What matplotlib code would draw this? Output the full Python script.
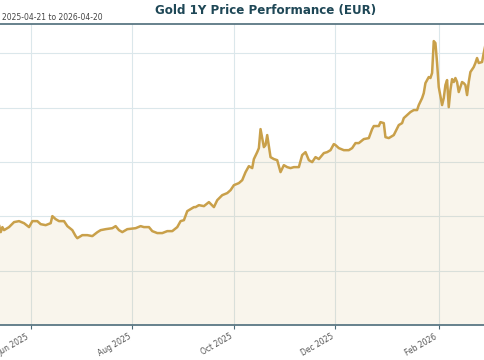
import matplotlib
matplotlib.use("Agg")
import matplotlib.pyplot as plt
import matplotlib.dates as mdates
import pandas as pd

# Gold price in EUR per ounce
dates = [
    "2025-05-12", "2025-05-13", "2025-05-14", "2025-05-15", "2025-05-16", "2025-05-19",
    "2025-05-22", "2025-05-25", "2025-05-28", "2025-05-31", "2025-06-02", "2025-06-05",
    "2025-06-07", "2025-06-10", "2025-06-13", "2025-06-14", "2025-06-16", "2025-06-18",
    "2025-06-21", "2025-06-23", "2025-06-26", "2025-06-28", "2025-06-29", "2025-07-02",
    "2025-07-05", "2025-07-08", "2025-07-11", "2025-07-13", "2025-07-16", "2025-07-20",
    "2025-07-22", "2025-07-24", "2025-07-26", "2025-07-29", "2025-08-03", "2025-08-06",
    "2025-08-08", "2025-08-11", "2025-08-13", "2025-08-16", "2025-08-19", "2025-08-22",
    "2025-08-25", "2025-08-28", "2025-08-30", "2025-09-01", "2025-09-03", "2025-09-05",
    "2025-09-07", "2025-09-08", "2025-09-10", "2025-09-13", "2025-09-16", "2025-09-19",
    "2025-09-21", "2025-09-24", "2025-09-27", "2025-09-29", "2025-10-01", "2025-10-04",
    "2025-10-06", "2025-10-08", "2025-10-10", "2025-10-12", "2025-10-13", "2025-10-15",
    "2025-10-16", "2025-10-17", "2025-10-19", "2025-10-20", "2025-10-21", "2025-10-23",
    "2025-10-25", "2025-10-27", "2025-10-29", "2025-10-31", "2025-11-02", "2025-11-04",
    "2025-11-06", "2025-11-09", "2025-11-11", "2025-11-13", "2025-11-15", "2025-11-17",
    "2025-11-19", "2025-11-21", "2025-11-24", "2025-11-26", "2025-11-28", "2025-11-30",
    "2025-12-01", "2025-12-03", "2025-12-06", "2025-12-09", "2025-12-11", "2025-12-13",
    "2025-12-15", "2025-12-18", "2025-12-21", "2025-12-23", "2025-12-24", "2025-12-27",
    "2025-12-28", "2025-12-30", "2025-12-31", "2026-01-02", "2026-01-05", "2026-01-08",
    "2026-01-10", "2026-01-11", "2026-01-13", "2026-01-15", "2026-01-17", "2026-01-19",
    "2026-01-20", "2026-01-22", "2026-01-23", "2026-01-24", "2026-01-26", "2026-01-27",
    "2026-01-28", "2026-01-29", "2026-01-30", "2026-01-31", "2026-02-01", "2026-02-03",
    "2026-02-04", "2026-02-05", "2026-02-06", "2026-02-07", "2026-02-08", "2026-02-09",
    "2026-02-10", "2026-02-11", "2026-02-12", "2026-02-13", "2026-02-15", "2026-02-16",
    "2026-02-17", "2026-02-18", "2026-02-19", "2026-02-20", "2026-02-22", "2026-02-23",
    "2026-02-24", "2026-02-25", "2026-02-27", "2026-02-28", "2026-03-01", "2026-03-02",
    "2026-03-03",
]
prices = [
    2873, 2919, 2855, 2901, 2873, 2901,
    2947, 2956, 2937, 2901, 2956, 2956,
    2928, 2919, 2937, 3002, 2974, 2956,
    2956, 2910, 2873, 2818, 2799, 2827,
    2827, 2818, 2854, 2873, 2882, 2891,
    2910, 2873, 2855, 2882, 2891, 2910,
    2901, 2901, 2864, 2846, 2846, 2864,
    2864, 2901, 2956, 2965, 3048, 3066,
    3085, 3085, 3103, 3094, 3131, 3085,
    3149, 3195, 3214, 3241, 3287, 3306,
    3333, 3407, 3462, 3444, 3527, 3591,
    3628, 3803, 3637, 3656, 3748, 3545,
    3527, 3517, 3407, 3471, 3453, 3444,
    3453, 3453, 3564, 3591, 3517, 3499,
    3545, 3527, 3582, 3591, 3609, 3665,
    3656, 3628, 3609, 3609, 3628, 3674,
    3674, 3711, 3720, 3803, 3831, 3831,
    3867, 3858, 3729, 3720, 3748, 3840,
    3858, 3904, 3932, 3960, 3978, 3978,
    4024, 4088, 4134, 4226, 4282, 4273,
    4319, 4613, 4595, 4411, 4190, 4024,
    4088, 4208, 4254, 4005, 4162, 4263,
    4236, 4273, 4236, 4144, 4236, 4226,
    4208, 4116, 4236, 4328, 4374, 4411,
    4457, 4411, 4420, 4503, 4577, 4640,
    4680,
]

x = pd.to_datetime(dates)

fig = plt.figure(figsize=(4.85, 3.6), dpi=100)
# plot area is wider than the canvas, as in the original crop
ax = fig.add_axes([-0.0775, 0.0972, 1.25, 0.8361])

gold = "#C9A04A"
ax.fill_between(x, prices, 2000, color=gold, alpha=0.1, linewidth=0)
ax.plot(x, prices, color=gold, linewidth=1.8, solid_joinstyle="round")

ax.set_xlim(pd.Timestamp("2025-04-21"), pd.Timestamp("2026-04-20"))
ax.set_ylim(2000, 4770)
ax.set_yticks([2500, 3000, 3500, 4000, 4500])

ax.xaxis.set_major_locator(mdates.MonthLocator(bymonth=[2, 6, 8, 10, 12]))
ax.xaxis.set_major_formatter(mdates.DateFormatter("%b %Y"))
plt.setp(ax.get_xticklabels(), rotation=30, ha="right", fontsize=5.5, color="#555555")
ax.tick_params(axis="x", length=3, width=0.8, color="#4d6b78", pad=2)
ax.tick_params(axis="y", length=0, labelleft=False)

ax.grid(True, color="#dbe7eb", linewidth=0.8)
ax.set_axisbelow(True)
for side in ["left", "right"]:
    ax.spines[side].set_visible(False)
for side in ["top", "bottom"]:
    ax.spines[side].set_color("#5a7784")
    ax.spines[side].set_linewidth(1.3)

fig.text(0.547, 0.972, "Gold 1Y Price Performance (EUR)", ha="center", va="center",
         fontsize=8.6, fontweight="bold", color="#1e4756")
fig.text(0.004, 0.952, "2025-04-21 to 2026-04-20", ha="left", va="center",
         fontsize=5.5, color="#444444")

fig.savefig("out.png", dpi=100)
